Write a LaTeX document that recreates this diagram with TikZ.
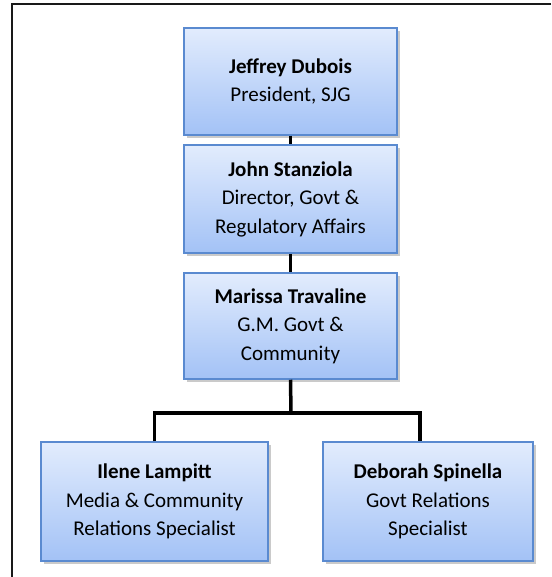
\documentclass[tikz,border=0pt]{standalone}
\usepackage{fontspec}
\setmainfont{Carlito}
\usetikzlibrary{shadows}
\definecolor{boxtop}{HTML}{E2ECFD}
\definecolor{boxbot}{HTML}{A3C2F6}
\definecolor{boxline}{HTML}{5A8AD0}
\tikzset{
  person/.style={rectangle, draw=boxline, line width=1.5pt,
    top color=boxtop, bottom color=boxbot, align=center,
    font=\fontsize{21}{28.5}\selectfont, inner sep=0pt,
    drop shadow={shadow xshift=2.5pt, shadow yshift=-3pt, opacity=0.35, fill=black!60}},
  conn/.style={line width=3.5pt, black},
  frameline/.style={line width=2pt, black!90}
}
\begin{document}
\begin{tikzpicture}[x=1pt, y=-1pt]
  \useasboundingbox (0,0) rectangle (551,577);
  % page frame
  \draw[frameline] (551,4.5) -- (12,4.5) -- (12,577);

  \node[person, minimum width=213pt, minimum height=107pt] (p) at (290.5,81.5)
    {\textbf{Jeffrey Dubois}\\President, SJG};
  \node[person, minimum width=213pt, minimum height=108pt] (s) at (290.5,199)
    {\textbf{John Stanziola}\\Director, Govt \&\\Regulatory Affairs};
  \node[person, minimum width=213pt, minimum height=106pt] (m) at (290.5,326)
    {\textbf{Marissa Travaline}\\G.M. Govt \&\\Community};
  \node[person, minimum width=227pt, minimum height=119pt] (i) at (154.5,501.5)
    {\textbf{Ilene Lampitt}\\Media \& Community\\Relations Specialist};
  \node[person, minimum width=210pt, minimum height=119pt] (d) at (428,501.5)
    {\textbf{Deborah Spinella}\\Govt Relations\\Specialist};

  \coordinate (j) at (291,413);
  \coordinate (br) at (420,413);

  \draw[conn] (p.south) -- (s.north);
  \draw[conn] (s.south) -- (m.north);
  \draw[conn] (m.south) -- (j);
  \draw[conn] (i.north) |- (br) -- (br |- d.north);
\end{tikzpicture}
\end{document}
